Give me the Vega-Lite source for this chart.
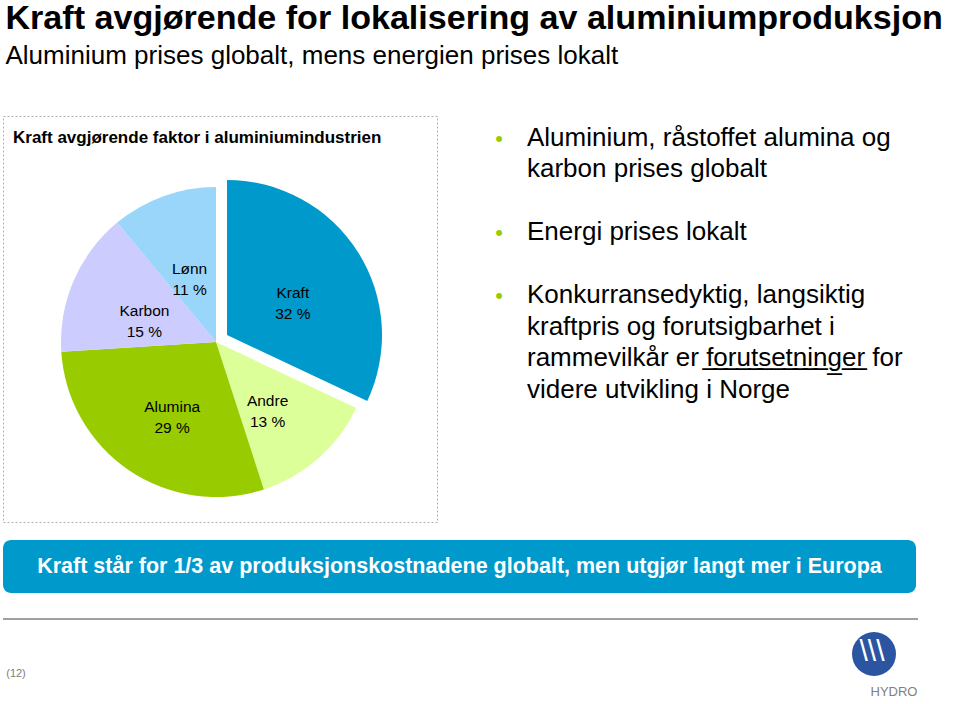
{
  "$schema": "https://vega.github.io/schema/vega-lite/v6.json",
  "background": "white",
  "padding": {"left": 2, "top": 2, "right": 4, "bottom": 0},
  "config": {"font": "Liberation Sans", "view": {"stroke": null}, "concat": {"spacing": 0}},
  "title": {
    "text": "Kraft avgjørende for lokalisering av aluminiumproduksjon",
    "subtitle": "Aluminium prises globalt, mens energien prises lokalt",
    "anchor": "start", "fontSize": 34.1, "fontWeight": "bold", "color": "black",
    "subtitleFontSize": 26, "subtitleColor": "black", "subtitleFont": "Liberation Sans",
    "subtitlePadding": 6, "offset": 47, "dx": 3
  },
  "vconcat": [
    {
      "hconcat": [
        {
          "width": 434, "height": 406,
          "view": {"stroke": "#b0b0b0", "strokeDash": [2, 2], "strokeWidth": 1, "fill": "white"},
          "title": {"text": "Kraft avgjørende faktor i aluminiumindustrien", "anchor": "start", "fontSize": 17, "fontWeight": "bold", "color": "black", "offset": -44, "baseline": "alphabetic", "dx": 10},
          "data": {"values": [
            {"idx": 1, "kategori": "Kraft", "andel": 32, "etikett": "Kraft\n32 %"},
            {"idx": 2, "kategori": "Andre", "andel": 13, "etikett": "Andre\n13 %"},
            {"idx": 3, "kategori": "Alumina", "andel": 29, "etikett": "Alumina\n29 %"},
            {"idx": 4, "kategori": "Karbon", "andel": 15, "etikett": "Karbon\n15 %"},
            {"idx": 5, "kategori": "Lønn", "andel": 11, "etikett": "Lønn\n11 %"}
          ]},
          "encoding": {
            "theta": {"field": "andel", "type": "quantitative", "stack": true},
            "order": {"field": "idx", "type": "quantitative"}
          },
          "layer": [
            {
              "mark": {"type": "arc", "radius": 155, "xOffset": -4, "yOffset": 23},
              "encoding": {
                "color": {"field": "kategori", "type": "nominal", "legend": null,
                  "scale": {"domain": ["Kraft", "Andre", "Alumina", "Karbon", "Lønn"], "range": ["#0099CC", "#DDFF99", "#99CC00", "#CCCCFF", "#9AD6FA"]}},
                "opacity": {"condition": {"test": "datum.kategori === 'Kraft'", "value": 0}, "value": 1}
              }
            },
            {
              "mark": {"type": "arc", "radius": 155, "xOffset": 7, "yOffset": 16},
              "encoding": {
                "color": {"field": "kategori", "type": "nominal", "legend": null,
                  "scale": {"domain": ["Kraft", "Andre", "Alumina", "Karbon", "Lønn"], "range": ["#0099CC", "#DDFF99", "#99CC00", "#CCCCFF", "#9AD6FA"]}},
                "opacity": {"condition": {"test": "datum.kategori === 'Kraft'", "value": 1}, "value": 0}
              }
            },
            {
              "mark": {"type": "text", "radius": 78, "xOffset": -4, "yOffset": 23, "fontSize": 15.5, "lineHeight": 21, "lineBreak": "\n", "color": "black"},
              "encoding": {
                "text": {"field": "etikett"},
                "opacity": {"condition": {"test": "datum.kategori === 'Kraft'", "value": 0}, "value": 1}
              }
            },
            {
              "mark": {"type": "text", "radius": 78, "xOffset": 7, "yOffset": 16, "fontSize": 15.5, "lineHeight": 21, "lineBreak": "\n", "color": "black"},
              "encoding": {
                "text": {"field": "etikett"},
                "opacity": {"condition": {"test": "datum.kategori === 'Kraft'", "value": 1}, "value": 0}
              }
            }
          ]
        },
        {
          "width": 56, "height": 406,
          "data": {"values": [
            {"linje": 0, "tekst": "Aluminium, råstoffet alumina og", "punkt": "•"},
            {"linje": 1, "tekst": "karbon prises globalt", "punkt": ""},
            {"linje": 3, "tekst": "Energi prises lokalt", "punkt": "•"},
            {"linje": 5, "tekst": "Konkurransedyktig, langsiktig", "punkt": "•"},
            {"linje": 6, "tekst": "kraftpris og forutsigbarhet i", "punkt": ""},
            {"linje": 7, "tekst": "rammevilkår er f̲o̲r̲u̲t̲s̲e̲t̲n̲i̲n̲g̲e̲r̲ for", "punkt": ""},
            {"linje": 8, "tekst": "videre utvikling i Norge", "punkt": ""}
          ]},
          "encoding": {
            "y": {"field": "linje", "type": "quantitative", "axis": null,
              "scale": {"domain": [-0.95, 11.94], "reverse": true, "nice": false, "zero": false}}
          },
          "layer": [
            {"mark": {"type": "text", "align": "left", "baseline": "alphabetic", "fontSize": 26, "color": "black"},
             "encoding": {"text": {"field": "tekst"}}},
            {"mark": {"type": "text", "align": "center", "baseline": "alphabetic", "fontSize": 22, "color": "#99CC00", "dx": -28},
             "encoding": {"text": {"field": "punkt"}}}
          ]
        }
      ],
      "spacing": 57
    },
    {
      "vconcat": [
        {
          "width": 913, "height": 53,
          "view": {"fill": "#0099CC", "stroke": null, "cornerRadius": 8},
          "data": {"values": [{"tekst": "Kraft står for 1/3 av produksjonskostnadene globalt, men utgjør langt mer i Europa"}]},
          "mark": {"type": "text", "fontSize": 21.5, "fontWeight": "bold", "color": "white"},
          "encoding": {"text": {"field": "tekst"}}
        },
        {
          "vconcat": [
            {
              "width": 915, "height": 2,
              "view": {"fill": "#a0a0a0", "stroke": null},
              "data": {"values": [{"t": ""}]},
              "mark": {"type": "text"},
              "encoding": {"text": {"field": "t"}}
            },
            {
              "hconcat": [
                {
                  "width": 26, "height": 76,
                  "data": {"values": [{"side": "(12)"}]},
                  "mark": {"type": "text", "fontSize": 11, "color": "#808080", "dy": 12},
                  "encoding": {"text": {"field": "side"}}
                },
                {
                  "width": 72, "height": 76,
                  "data": {"values": [{"logo": "HYDRO", "striper": "\\\\\\"}]},
                  "layer": [
                    {"mark": {"type": "point", "shape": "circle", "filled": true, "size": 1936, "color": "#2B55A1", "opacity": 1, "xOffset": -9, "yOffset": -8}, "encoding": {}},
                    {"mark": {"type": "text", "fontSize": 30, "color": "white", "dx": -11, "dy": -10, "letterSpacing": 2}, "encoding": {"text": {"field": "striper"}}},
                    {"mark": {"type": "text", "fontSize": 13, "color": "#808080", "dx": 11, "dy": 30}, "encoding": {"text": {"field": "logo"}}}
                  ]
                }
              ],
              "spacing": 818
            }
          ],
          "spacing": 0
        }
      ],
      "spacing": 20
    }
  ],
  "spacing": 17
}
